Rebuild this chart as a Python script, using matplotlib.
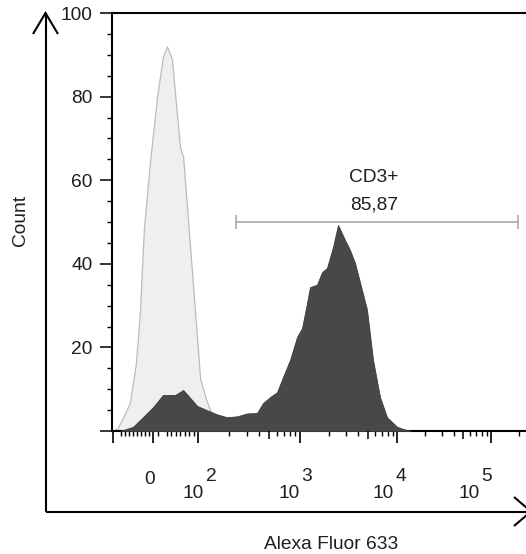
import numpy as np
import matplotlib
matplotlib.use("Agg")
import matplotlib.pyplot as plt
from matplotlib.lines import Line2D
from matplotlib.ticker import NullFormatter, NullLocator

plt.rcParams['font.family'] = ['Liberation Sans', 'DejaVu Sans']

# ---------------- data (fluorescence value, count) ----------------
ctrl_x = [-100, -88, -78, -58, -43, -33, -23, -8, 9, 22, 31, 42, 53, 60, 67,
          86, 105, 122, 137, 147, 164]
ctrl_y = [0, 0.8, 2.6, 6.7, 16, 28, 48, 64, 80, 89.5, 92, 89, 76, 68, 65.5,
          39, 12.5, 7, 4, 1.5, 0]

cd3_x = [-82, -50, -25, 0, 22, 49, 67, 82, 98, 122, 153, 192, 241, 302, 378,
         434, 508, 596, 681, 798, 935, 1049, 1181, 1267, 1496, 1686, 1897,
         2188, 2465, 2911, 3276, 3690, 4355, 4907, 5662, 6683, 7884, 10000,
         11587, 14000]
cd3_y = [0, 1, 3.3, 5.7, 8.6, 8.6, 9.8, 8, 6, 5, 4, 3.3, 3.5, 4.2, 4.3,
         6.7, 8.1, 9.3, 12.9, 17, 22.5, 24.6, 30.6, 34.4, 35, 38, 39,
         44, 49.3, 45.7, 43.3, 40.2, 33.7, 29, 17, 8.1, 3.3, 1,
         0.5, 0]

gate_range = [236, 194000]
gate_level = 50
gate_name = "CD3+"
gate_pct = "85,87"

y_major = [0, 20, 40, 60, 80, 100]
y_labels = ['', '20', '40', '60', '80', '100']
decades = [100, 1000, 10000, 100000]
decade_exp = ['2', '3', '4', '5']

# ---------------- biexponential-like display scale ----------------
G_ANCH = np.array([-2., -1., 0., 1., 2., 3., 4., 5., 6.])
P_ANCH = np.array([73., 113., 153., 198., 300., 397., 491., 585., 679.])


def _g(x):
    x = np.asarray(x, dtype=float)
    with np.errstate(all='ignore'):
        big = np.where(x > 100, x, 100.0)
        return np.where(x > 100, 1 + np.log10(big / 100.0), x / 100.0)


def fwd(x):
    return np.interp(_g(x), G_ANCH, P_ANCH)


def inv(p):
    g = np.interp(np.asarray(p, dtype=float), P_ANCH, G_ANCH)
    with np.errstate(all='ignore'):
        return np.where(g > 1, 100.0 * 10 ** (g - 1), 100.0 * g)


FS = 13.8
W, H = 526, 554
fig = plt.figure(figsize=(W / 100, H / 100), dpi=100)
ax = fig.add_axes([112 / W, 1 - 431 / H, (W - 112) / W, 418 / H])
ax.set_xscale('function', functions=(fwd, inv))
ax.set_xlim(float(inv(112)), float(inv(W)))
ax.set_ylim(0, 100)

ax.fill_between(ctrl_x, ctrl_y, 0, facecolor='#efefef', edgecolor='#bcbcbc',
                linewidth=0.9, zorder=2)
ax.fill_between(cd3_x, cd3_y, 0, facecolor='#484848', edgecolor='#3c3c3c',
                linewidth=0.6, zorder=3)

# gate
ax.hlines(gate_level, gate_range[0], gate_range[1], color='#a9a9a9', lw=1.2, zorder=4)
ax.vlines(gate_range, gate_level - 1.7, gate_level + 1.7, color='#a9a9a9', lw=1.2, zorder=4)
gate_mid = float(inv((fwd(gate_range[0]) + fwd(gate_range[1])) / 2))
txtc = '#1e1e1e'
ax.annotate(gate_name, xy=(gate_mid, gate_level), xytext=(-3, 39.5),
            textcoords='offset pixels', ha='center', va='baseline',
            fontsize=FS, color=txtc)
ax.annotate(gate_pct, xy=(gate_mid, gate_level), xytext=(-3, 12.5),
            textcoords='offset pixels', ha='center', va='baseline',
            fontsize=FS, color=txtc)

# spines
for s in ['left', 'top', 'bottom']:
    ax.spines[s].set_linewidth(1.5)
    ax.spines[s].set_color('black')
ax.spines['right'].set_visible(False)

# y ticks
ax.set_yticks(y_major, y_labels)
ax.set_yticks(np.arange(5, 100, 5), minor=True)
ax.tick_params(axis='y', which='major', length=8.6, width=1.1, pad=5.5,
               labelsize=FS, labelcolor=txtc)
ax.tick_params(axis='y', which='minor', length=3.6, width=1.0)

# x ticks
x_major = [-100, 0] + decades
x_minor = ([-80, -70, -60, -50, -40, -30, -20, -10, 10, 30, 40, 50, 60, 70, 80, 90]
           + [m * d for d in [100, 1000, 10000] for m in [2, 3, 4, 6, 7, 8, 9]]
           + [200000])
ax.set_xticks(x_major)
ax.set_xticks(x_minor, minor=True)
ax.xaxis.set_major_formatter(NullFormatter())
ax.xaxis.set_minor_formatter(NullFormatter())
ax.tick_params(axis='x', which='major', length=8.3, width=1.2)
ax.tick_params(axis='x', which='minor', length=3.6, width=1.0)

# medium ticks (5 x decade) via twin axis
ax2 = ax.twiny()
ax2.set_xscale('function', functions=(fwd, inv))
ax2.set_xlim(ax.get_xlim())
ax2.xaxis.set_ticks_position('bottom')
ax2.set_xticks([500, 5000, 50000])
ax2.xaxis.set_major_formatter(NullFormatter())
ax2.xaxis.set_minor_locator(NullLocator())
ax2.tick_params(axis='x', which='major', length=5.8, width=1.1)
for s in ax2.spines.values():
    s.set_visible(False)
ax2.patch.set_visible(False)

# x tick labels
ax.annotate("0", xy=(0, 0), xycoords=('data', 'axes fraction'), xytext=(-3, -53),
            textcoords='offset pixels', ha='center', va='baseline', fontsize=FS, color=txtc)
label_dx = [-15, -22, -25, -33]
for d, e, dx in zip(decades, decade_exp, label_dx):
    ax.annotate("10", xy=(d, 0), xycoords=('data', 'axes fraction'), xytext=(dx, -67),
                textcoords='offset pixels', ha='left', va='baseline', fontsize=FS, color=txtc)
    ax.annotate(e, xy=(d, 0), xycoords=('data', 'axes fraction'), xytext=(dx + 23, -50),
                textcoords='offset pixels', ha='left', va='baseline', fontsize=FS, color=txtc)


# outer arrows (figure pixel coordinates)
def fx(px):
    return px / W


def fy(py):
    return 1 - py / H


arrow_lines = [
    ([45.5, 45.5], [13, 512]),
    ([33, 45.5, 58], [34, 13, 34]),
    ([45.5, 531], [511.5, 511.5]),
    ([514, 531, 514], [497, 511.5, 526]),
]
for xs, ys in arrow_lines:
    fig.add_artist(Line2D([fx(v) for v in xs], [fy(v) for v in ys],
                          transform=fig.transFigure, color='black', lw=1.5,
                          solid_capstyle='butt', solid_joinstyle='miter'))

fig.text(fx(21), fy(221), "Count", rotation=90, ha='center', va='center',
         fontsize=FS, color=txtc)
fig.text(fx(331.5), fy(549), "Alexa Fluor 633", ha='center', va='baseline',
         fontsize=FS, color=txtc)

fig.savefig("out.png", dpi=100)
